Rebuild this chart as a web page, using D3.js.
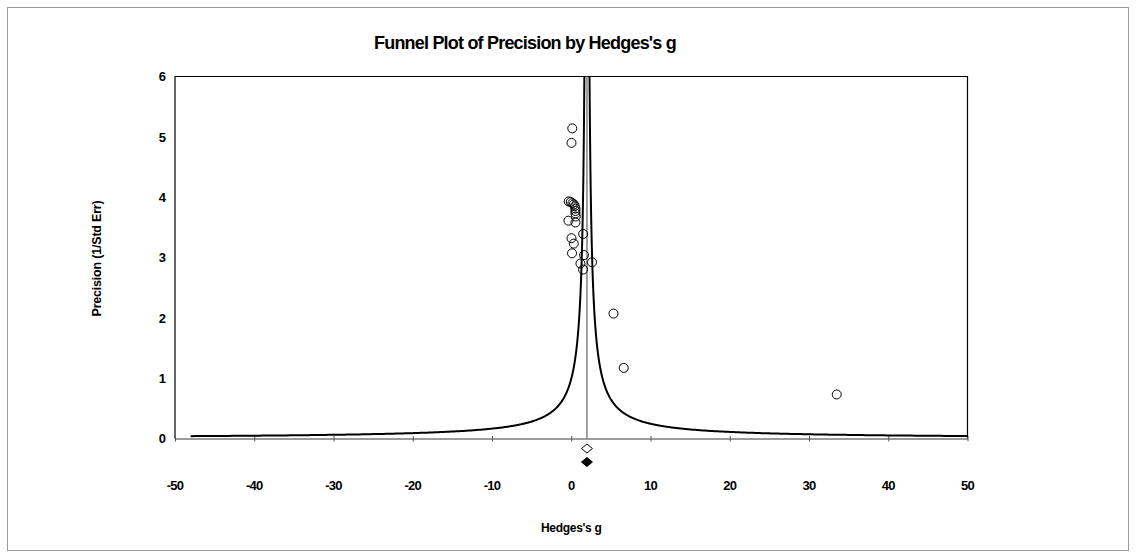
<!DOCTYPE html>
<html>
<head>
<meta charset="utf-8">
<script src="https://cdn.jsdelivr.net/npm/d3@7"></script>
<style>
  html, body { margin: 0; padding: 0; background: #fff; }
  svg { display: block; font-family: "Liberation Sans", Arial, sans-serif; }
</style>
</head>
<body>
<svg id="chart" width="1136" height="558"></svg>
<script>
// Study effects (Hedges's g) and their precision (1 / standard error)
const hedgesG = [0.13, 0.03, -0.32, -0.06, 0.15, 0.32, 0.44, 0.53, 0.53, 0.53, 0.57, 0.53,
                 -0.35, 1.51, 0.03, 0.32, 0.10, 1.61, 2.62, 1.16, 1.49, 5.33, 6.62, 33.5];
const precision = [5.14, 4.90, 3.93, 3.92, 3.90, 3.88, 3.85, 3.81, 3.77, 3.73, 3.68, 3.58,
                   3.61, 3.39, 3.32, 3.23, 3.07, 3.04, 2.92, 2.90, 2.80, 2.07, 1.17, 0.73];
// Combined effect (observed and adjusted)
const combinedEffects = [1.98, 1.98];
const xTicks = [-50, -40, -30, -20, -10, 0, 10, 20, 30, 40, 50];
const yTicks = [0, 1, 2, 3, 4, 5, 6];

const svg = d3.select("#chart");
const W = 1136, H = 558;
const plot = { left: 175, right: 967.5, top: 76.5, bottom: 438.5 };

const x = d3.scaleLinear().domain([-50, 50]).range([plot.left, plot.right]);
const y = d3.scaleLinear().domain([0, 6]).range([plot.bottom, plot.top]);

// Outer frame
svg.append("rect")
  .attr("x", 7.5).attr("y", 7.5).attr("width", W - 15).attr("height", H - 15)
  .attr("fill", "none").attr("stroke", "#9a9a9a").attr("stroke-width", 1);

// Title
svg.append("text")
  .attr("x", 374).attr("y", 49)
  .attr("font-size", 18).attr("font-weight", "bold")
  .attr("letter-spacing", -0.8)
  .text("Funnel Plot of Precision by Hedges's g");

// Plot frame (left, top, right)
svg.append("path")
  .attr("d", `M${plot.left},${plot.bottom}V${plot.top}H${plot.right}V${plot.bottom}`)
  .attr("fill", "none").attr("stroke", "#000").attr("stroke-width", 1.2);

// X axis (grey) with ticks crossing the baseline
const xAxis = d3.axisBottom(x).tickValues(xTicks).tickSize(0).tickFormat("");
const gx = svg.append("g").attr("transform", `translate(0,${plot.bottom})`).call(xAxis);
gx.select(".domain").attr("stroke", "#7a7a7a").attr("stroke-width", 1.5);
gx.selectAll(".tick").append("line")
  .attr("y1", -2.5).attr("y2", 3).attr("stroke", "#555").attr("stroke-width", 1);

svg.append("g").selectAll("text").data(xTicks).join("text")
  .attr("x", d => x(d)).attr("y", plot.bottom + 51)
  .attr("text-anchor", "middle")
  .attr("font-size", 13).attr("font-weight", "bold").attr("letter-spacing", -0.8)
  .text(d => d);

// Y axis labels
const yAxis = d3.axisLeft(y).tickValues(yTicks).tickSize(0).tickPadding(9).tickFormat(d3.format("d"));
const gy = svg.append("g").attr("transform", `translate(${plot.left},0)`).call(yAxis);
gy.select(".domain").remove();
gy.selectAll("text")
  .attr("font-size", 13).attr("font-weight", "bold")
  .attr("font-family", "Liberation Sans, Arial, sans-serif").attr("fill", "#000");

// Axis titles
svg.append("text")
  .attr("transform", `translate(101,${(plot.top + plot.bottom) / 2 + 1}) rotate(-90)`)
  .attr("text-anchor", "middle")
  .attr("font-size", 12.5).attr("font-weight", "bold").attr("letter-spacing", -0.2)
  .text("Precision (1/Std Err)");

svg.append("text")
  .attr("x", x(0)).attr("y", 532)
  .attr("text-anchor", "middle")
  .attr("font-size", 12).attr("font-weight", "bold").attr("letter-spacing", -0.3)
  .text("Hedges's g");

svg.append("clipPath").attr("id", "plotClip").append("rect")
  .attr("x", plot.left).attr("y", plot.top - 1)
  .attr("width", plot.right - plot.left).attr("height", plot.bottom - plot.top + 1);

const mean = combinedEffects[0];

// Vertical line at the combined effect
svg.append("line")
  .attr("x1", x(mean)).attr("x2", x(mean))
  .attr("y1", y(0)).attr("y2", y(6))
  .attr("stroke", "#808080").attr("stroke-width", 1.5);

// Pseudo 95% confidence limits: g = mean ± 1.96 / precision
const pGrid = d3.range(0, 401).map(i => 1.96 / 50 * Math.pow(6 / (1.96 / 50), i / 400));
const funnelLine = d3.line().x(d => x(d[0])).y(d => y(d[1]));
[-1, 1].forEach(s => {
  svg.append("path")
    .datum(pGrid.map(p => [mean + s * 1.96 / p, p]))
    .attr("clip-path", "url(#plotClip)")
    .attr("d", funnelLine)
    .attr("fill", "none").attr("stroke", "#000").attr("stroke-width", 2);
});

// Studies
svg.append("g").selectAll("circle").data(hedgesG).join("circle")
  .attr("cx", d => x(d))
  .attr("cy", (d, i) => y(precision[i]))
  .attr("r", 4.5)
  .attr("fill", "none").attr("stroke", "#000").attr("stroke-width", 1);

// Combined effect diamonds below the axis
const diamond = (cx, cy) => `M${cx - 5.5},${cy}L${cx},${cy - 4.5}L${cx + 5.5},${cy}L${cx},${cy + 4.5}Z`;
svg.append("path").attr("d", diamond(x(combinedEffects[0]), 448.5))
  .attr("fill", "#fff").attr("stroke", "#000").attr("stroke-width", 1);
svg.append("path").attr("d", diamond(x(combinedEffects[1]), 462))
  .attr("fill", "#000").attr("stroke", "#000").attr("stroke-width", 1);
</script>
</body>
</html>
